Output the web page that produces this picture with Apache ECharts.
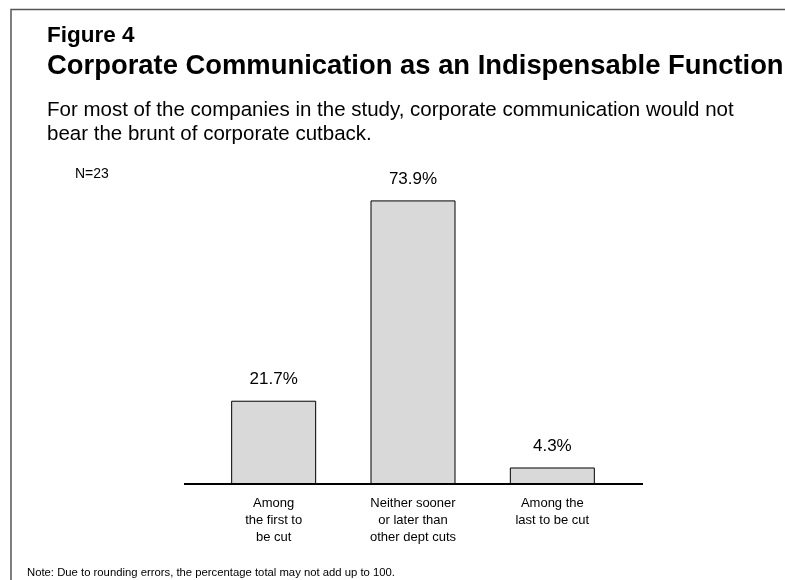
<!DOCTYPE html>
<html>
<head>
<meta charset="utf-8">
<script src="https://cdn.jsdelivr.net/npm/echarts@6/dist/echarts.min.js"></script>
<style>
  html, body { margin: 0; padding: 0; background: #fff; }
  #chart { width: 785px; height: 580px; }
</style>
</head>
<body>
<div id="chart"></div>
<script>
// Survey answers: when would corporate communication be cut?
const categories = [
  'Among\nthe first to\nbe cut',
  'Neither sooner\nor later than\nother dept cuts',
  'Among the\nlast to be cut'
];
const shares = [21.7, 73.9, 4.3];

const FONT = '"Liberation Sans", Arial, Helvetica, sans-serif';

const chart = echarts.init(document.getElementById('chart'), null, { renderer: 'canvas' });

chart.setOption({
  animation: false,
  backgroundColor: '#ffffff',
  title: [
    { text: 'Figure 4', left: 47, top: 25, padding: 0,
      textStyle: { fontFamily: FONT, fontSize: 22.5, lineHeight: 22, fontWeight: 'bold', color: '#000' } },
    { text: 'Corporate Communication as an Indispensable Function', left: 47, top: 53, padding: 0,
      textStyle: { fontFamily: FONT, fontSize: 27.4, lineHeight: 27, fontWeight: 'bold', color: '#000' } },
    { text: 'For most of the companies in the study, corporate communication would not\nbear the brunt of corporate cutback.',
      left: 47, top: 98, padding: 0,
      textStyle: { fontFamily: FONT, fontSize: 20.5, fontWeight: 'normal', color: '#000', lineHeight: 24 } },
    { text: 'N=23', left: 75, top: 167, padding: 0,
      textStyle: { fontFamily: FONT, fontSize: 14, fontWeight: 'normal', color: '#000' } },
    { text: 'Note: Due to rounding errors, the percentage total may not add up to 100.', left: 27, top: 567, padding: 0,
      textStyle: { fontFamily: FONT, fontSize: 11.3, fontWeight: 'normal', color: '#000' } }
  ],
  grid: { left: 204, width: 418, top: 177, bottom: 96, containLabel: false },
  xAxis: {
    type: 'category',
    data: categories,
    axisLine: { show: false },
    axisTick: { show: false },
    axisLabel: {
      interval: 0, margin: 11,
      fontFamily: FONT, fontSize: 13, lineHeight: 17, color: '#000'
    }
  },
  yAxis: {
    type: 'value', min: 0, max: 80,
    show: false,
    splitLine: { show: false }
  },
  series: [{
    type: 'bar',
    data: shares,
    barWidth: 85,
    itemStyle: { color: '#d9d9d9', borderColor: '#000', borderWidth: 1 },
    label: {
      show: true, position: 'top', distance: 13,
      formatter: p => p.value.toFixed(1) + '%',
      fontFamily: FONT, fontSize: 17, color: '#000'
    }
  }]
});

// Baseline under the bars, running wider than the plot area, and the frame edges.
const zeroY = Math.round(chart.convertToPixel({ yAxisIndex: 0 }, 0));
chart.setOption({
  graphic: [
    { type: 'line', shape: { x1: 184, y1: zeroY, x2: 643, y2: zeroY },
      style: { stroke: '#000', lineWidth: 2 }, z: 10 },
    { type: 'polyline', shape: { points: [[11, 580], [11, 9.5], [785, 9.5]] },
      style: { stroke: '#555', lineWidth: 1.5, fill: null }, z: 10 }
  ]
});
</script>
</body>
</html>
